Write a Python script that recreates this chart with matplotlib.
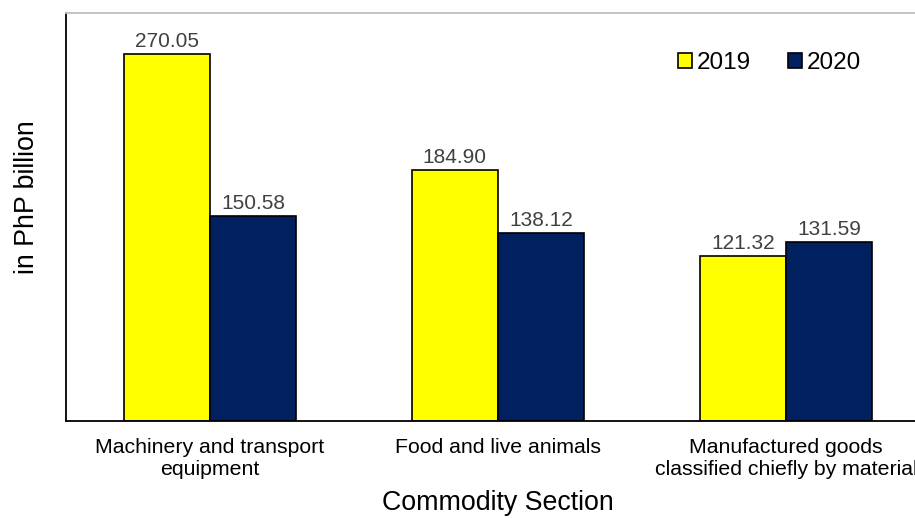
import matplotlib
matplotlib.use("Agg")
import matplotlib.pyplot as plt
import numpy as np

# Importwerte nach Warengruppe
CATEGORIES = ["Machinery and transport\nequipment",
              "Food and live animals",
              "Manufactured goods\nclassified chiefly by material"]
VALUES_2019 = [270.05, 184.90, 121.32]
VALUES_2020 = [150.58, 138.12, 131.59]
SERIES = ["2019", "2020"]
COLORS = ["#FFFF00", "#002060"]

plt.rcParams["font.family"] = ["Liberation Sans", "DejaVu Sans"]

fig = plt.figure(figsize=(9.15, 5.18), dpi=100)
ax = fig.add_axes([0.0721, 0.1873, 0.9443, 0.7876])

x = np.arange(len(CATEGORIES))
w = 0.3
bars1 = ax.bar(x - w / 2, VALUES_2019, w, color=COLORS[0], edgecolor="black",
               linewidth=1.2, label=SERIES[0])
bars2 = ax.bar(x + w / 2, VALUES_2020, w, color=COLORS[1], edgecolor="black",
               linewidth=1.2, label=SERIES[1])

for bars in (bars1, bars2):
    for b in bars:
        ax.annotate(f"{b.get_height():.2f}",
                    (b.get_x() + b.get_width() / 2, b.get_height()),
                    xytext=(0, 2), textcoords="offset points",
                    ha="center", va="bottom", fontsize=15, color="#404040")

ax.set_xlim(-0.5, 2.5)
ax.set_ylim(0, 300)
ax.set_yticks([])
ax.set_xticks(x)
ax.set_xticklabels(CATEGORIES, fontsize=15.3, linespacing=1.2)
ax.tick_params(axis="x", length=0, pad=12)

ax.spines["top"].set_color("#bfbfbf")
ax.spines["top"].set_linewidth(1.3)
ax.spines["left"].set_linewidth(1.3)
ax.spines["bottom"].set_linewidth(1.3)
ax.spines["right"].set_visible(False)

ax.set_xlabel("Commodity Section", fontsize=19.3, labelpad=8)
ax.set_ylabel("in PhP billion", fontsize=19.3, labelpad=19)
ax.yaxis.label.set_y(0.549)

fig.legend(loc="center", bbox_to_anchor=(0.841, 0.878), ncol=2, frameon=False,
           fontsize=17.5, handlelength=0.55, handleheight=0.55,
           handletextpad=0.2, columnspacing=1.55)

fig.savefig("out.png", dpi=100)
